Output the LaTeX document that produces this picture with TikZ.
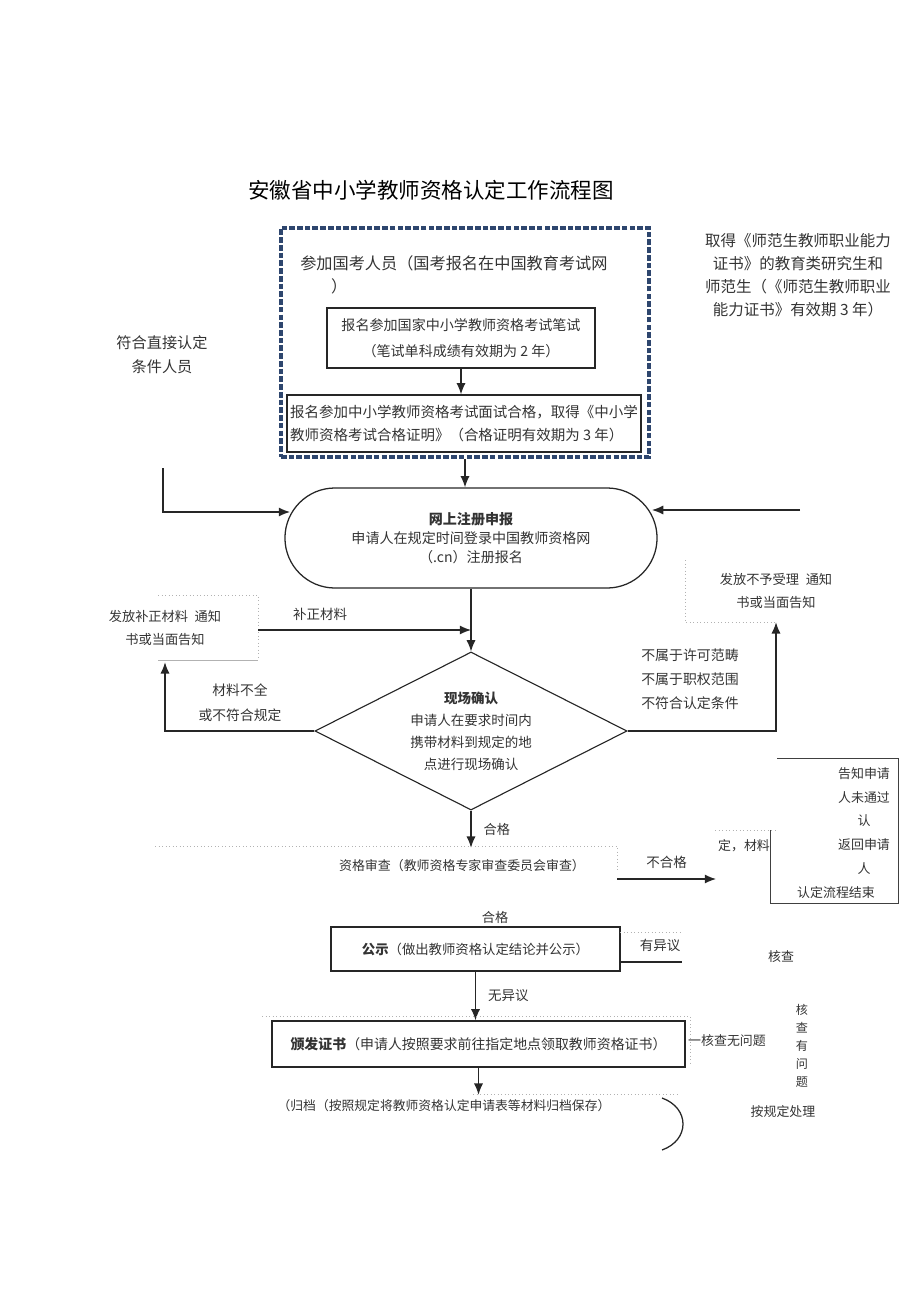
\documentclass[tikz,border=0pt]{standalone}
\usepackage{fontspec}
\setmainfont{Noto Sans CJK SC}
\usetikzlibrary{shapes.geometric,arrows.meta}
\definecolor{guoblue}{RGB}{46,70,110}
\newcommand{\fsz}[2]{\fontsize{#1}{#2}\selectfont}

\begin{document}
\begin{tikzpicture}[x=0.025cm, y=-0.025cm, >={Latex[length=8pt,width=6.5pt]},
		ln/.style={line width=0.9pt, black!85},
		arr/.style={ln, ->},
		bx/.style={rectangle, draw=black!85, line width=0.9pt},
		tx/.style={align=center, text=black!80, inner sep=0pt},
		ghost/.style={black!30, dotted, line width=0.5pt}]
		\useasboundingbox (0,0) rectangle (920,1301);

		\node (title) at (431,190) [font=\fsz{15.3}{18}] {安徽省中小学教师资格认定工作流程图};

		% national exam group
		\node (guo) at (465,342.5) [rectangle, draw=guoblue, line width=2.6pt, dash pattern=on 4pt off 1.5pt, minimum width=9.2cm, minimum height=5.725cm] {};
		\node (guo_t) at (300,255) [anchor=north west, tx, align=left, font=\fsz{11.5}{16.4}] {参加国考人员（国考报名在中国教育考试网\\\hspace*{1.9em}）};
		\node (exam_1) at (461,338) [bx, tx, minimum width=6.7cm, minimum height=1.5cm, font=\fsz{10}{18.5}] {报名参加国家中小学教师资格考试笔试\\（笔试单科成绩有效期为 2 年）};
		\node (exam_2) at (464,423.5) [bx, tx, align=left, minimum width=8.85cm, minimum height=1.425cm, font=\fsz{10.3}{17}] {报名参加中小学教师资格考试面试合格，取得《中小学\\教师资格考试合格证明》（合格证明有效期为 3 年）};
		\draw[arr] (exam_1.south) -- (exam_1.south |- exam_2.north);

		\node (direct) at (162,355) [tx, font=\fsz{10.8}{17}] {符合直接认定\\条件人员};
		\node (tf) at (798,275) [tx, font=\fsz{11}{16.4}] {取得《师范生教师职业能力\\证书》的教育类研究生和\\师范生（《师范生教师职业\\能力证书》有效期 3 年）};

		% online registration
		\node (reg) at (471,538) [rectangle, rounded corners=1.25cm, draw=black!85, line width=0.9pt, minimum width=9.3cm, minimum height=2.5cm, tx, font=\fsz{10}{13.5}] {\textbf{网上注册申报}\\申请人在规定时间登录中国教师资格网\\（.cn）注册报名};
		\draw[arr] (guo.south) -- (guo.south |- reg.north);
		\coordinate (direct_a) at (163,468);
		\coordinate (direct_b) at (290,512);
		\draw[arr] (direct_a) |- (direct_b);
		\coordinate (tf_a) at (800,510);
		\coordinate (tf_b) at (652,510);
		\draw[arr] (tf_a) -- (tf_b);

		% on-site check
		\node (site) at (471,731) [diamond, aspect=2, draw=black!85, line width=0.8pt, minimum width=7.8cm, minimum height=3.95cm, tx, font=\fsz{9.6}{15.7}] {\textbf{现场确认}\\申请人在要求时间内\\携带材料到规定的地\\点进行现场确认};
		\draw[arr] (reg.south) -- (site.north);

		\node (bz) at (165,628) [tx, minimum height=1.7cm, font=\fsz{9.4}{17}] {发放补正材料\hspace{0.5em}通知\\书或当面告知};
		\draw[ghost] (158,595) -- (258,595) -- (258,660);
		\draw[black!30, line width=0.4pt] (158,660) -- (258,660);
		\coordinate (bz_a) at (258,630);
		\draw[arr] (bz_a) -- (bz_a -| reg.south);
		\node (bz_l) at (320,614) [tx, font=\fsz{9.6}{12}] {补正材料};
		\draw[arr] (site.west) -| (bz.south);
		\node (lack) at (240,703) [tx, font=\fsz{9.8}{17.8}] {材料不全\\或不符合规定};

		\node (bs) at (776,591) [tx, minimum height=1.55cm, font=\fsz{9.4}{16.4}] {发放不予受理\hspace{0.5em}通知\\书或当面告知};
		\draw[ghost] (685,560) -- (685,622) -- (775,622);
		\draw[arr] (site.east) -| (bs.south);
		\node (nr) at (641,679) [anchor=west, tx, align=left, font=\fsz{9.9}{17}] {不属于许可范畴\\不属于职权范围\\不符合认定条件};

		% review
		\node (rev) at (462,866) [tx, minimum height=0.9cm, font=\fsz{9.2}{12}] {资格审查（教师资格专家审查委员会审查）};
		\draw[arr] (site.south) -- (site.south |- rev.north) node[midway, right=0.3cm, tx, font=\fsz{9.4}{12}] (ok_1) {合格};
		\draw[ghost] (155,846) -- (617,846) -- (617,872);
		\coordinate (ng_a) at (617,879);
		\coordinate (ng_b) at (716,879);
		\draw[arr] (ng_a) -- (ng_b) node[midway, above=0.25cm, tx, font=\fsz{9.6}{12}] (ng_l) {不合格};
		\node (dm) at (744,846) [tx, font=\fsz{9.2}{12}] {定，材料};
		\draw[ghost] (715,830) -- (775,830);
		\draw[black!75, line width=0.6pt] (777,758) -- (898,758) -- (898,903) -- (770,903) -- (770,830);
		\node (fail) at (864,821) [tx, font=\fsz{9.2}{17}] {告知申请\\人未通过\\认\\返回申请\\人};
		\node (fail_end) at (836,893) [tx, font=\fsz{9.2}{12}] {认定流程结束};

		% publicity and certificate
		\node (ok_2) at (495,917) [tx, font=\fsz{9.4}{12}] {合格};
		\node (pub) at (475.5,949) [bx, tx, minimum width=7.225cm, minimum height=1.1cm, font=\fsz{9.5}{12}] {\textbf{公示}（做出教师资格认定结论并公示）};
		\draw[ghost] (620,932) -- (682,932);
		\coordinate (obj_a) at (620,962);
		\coordinate (obj_b) at (682,962);
		\draw[ln] (obj_a) -- (obj_b);
		\node (obj_l) at (660,945) [tx, font=\fsz{9.6}{12}] {有异议};
		\node (chk) at (781,957) [tx, font=\fsz{9.2}{12}] {核查};

		\node (cert) at (478.5,1044) [bx, tx, minimum width=10.325cm, minimum height=1.15cm, font=\fsz{9.9}{12}] {\textbf{颁发证书}（申请人按照要求前往指定地点领取教师资格证书）};
		\draw[arr] (pub.south) -- (pub.south |- cert.north) node[midway, right=0.3cm, tx, font=\fsz{9.6}{12}] (noobj) {无异议};
		\draw[ghost] (262,1016) -- (690,1016) -- (690,1066);
		\node (ok_3) at (727,1041) [tx, font=\fsz{9.2}{12}] {一核查无问题};
		\node (prob) at (802,1046) [tx, font=\fsz{8.6}{12.8}] {核\\查\\有\\问\\题};
		\node (deal) at (783,1112) [tx, font=\fsz{9.2}{12}] {按规定处理};

		% archive
		\node (arch) at (444,1106) [tx, minimum height=0.55cm, font=\fsz{9.1}{12}] {（归档（按照规定将教师资格认定申请表等材料归档保存）};
		\draw[arr] (cert.south) -- (cert.south |- arch.north);
		\draw[ghost] (473,1094) -- (680,1094);
		\draw[ln] (662,1098) .. controls (690,1108) and (690,1140) .. (662,1150);
	\end{tikzpicture}
\end{document}
